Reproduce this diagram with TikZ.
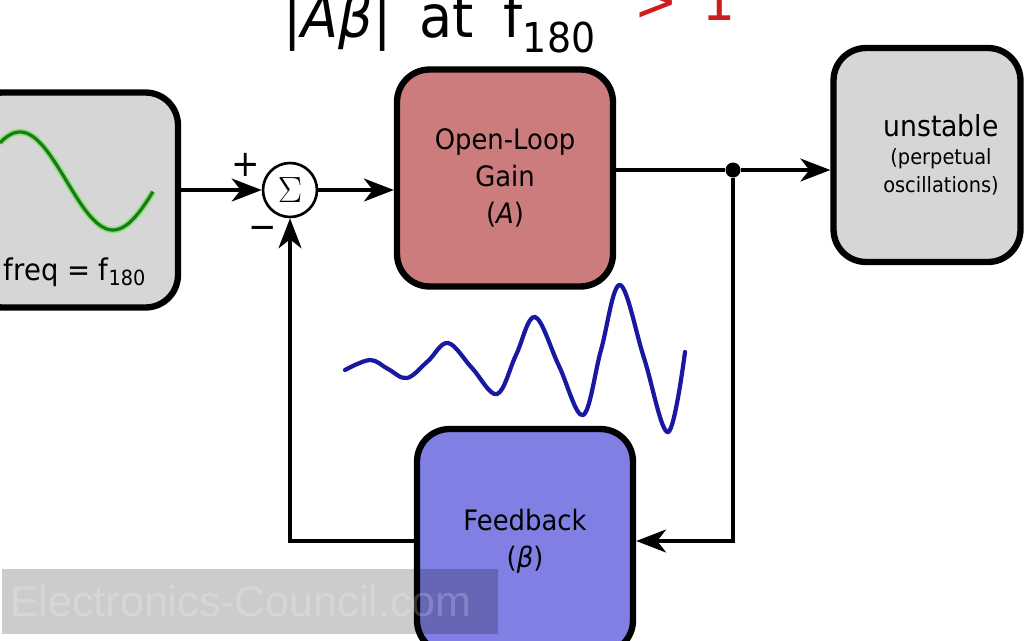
\documentclass[tikz,border=0pt]{standalone}
\usepackage{fontspec}
\setmainfont{DejaVu Sans}[FakeStretch=0.92]
\newfontfamily\markfont{Liberation Sans}
\usetikzlibrary{arrows.meta,calc,positioning}
\definecolor{SourceGrey}{RGB}{214,214,214}
\definecolor{GainRose}{RGB}{204,124,124}
\definecolor{FeedbackBlue}{RGB}{128,128,228}
\definecolor{WaveBlue}{RGB}{24,24,160}
\definecolor{WaveGreen}{RGB}{30,118,30}
\definecolor{GlowGreen}{RGB}{130,230,110}
\definecolor{TitleRed}{RGB}{205,30,30}
\newcommand{\notefont}{\fontsize{12}{16}\selectfont}

\begin{document}
\begin{tikzpicture}[x=0.02cm, y=-0.02cm,
    block/.style={draw=black, line width=3.6pt, rounded corners=0.65cm, align=center,
        font=\fontsize{16}{21}\selectfont, inner sep=0pt},
    signal/.style={line width=2.2pt, -{Stealth[length=17pt, width=13pt, inset=5pt]}},
    wire/.style={line width=2.2pt}]
    \useasboundingbox (0,0) rectangle (1024,640);
    \clip (0,0) rectangle (1024,640);
    % Title: loop gain condition
    \node[anchor=base west, inner sep=0pt, font=\fontsize{33.5}{40}\selectfont] (title) at (283,37)
        {|\textit{Aβ}|\hspace{16pt}at\hspace{17pt}f\textsubscript{180}};
    \node[anchor=base west, inner sep=0pt, text=TitleRed, font=\fontsize{32}{38}\selectfont] (cond) at (634,20)
        {>\hspace{14pt}1};
    % Input source with a sine
    \node[block, fill=SourceGrey, minimum width=4.16cm, minimum height=4.3cm] (src) at (74,200) {};
    \draw[GlowGreen, line width=3.6pt] plot[domain=0:153, samples=60] (\x,{181-49*cos((\x-20)/186*360)});
    \draw[WaveGreen, line width=1.8pt] plot[domain=0:153, samples=60] (\x,{181-49*cos((\x-20)/186*360)});
    \node[anchor=base, font=\fontsize{17}{20}\selectfont] (freq) at (75,280) {freq = f\textsubscript{180}};
    % Summing junction
    \node[circle, draw, line width=1.5pt, fill=white, minimum size=1.08cm, inner sep=0pt] (sum) at (290,190)
        {\fontsize{20}{24}\selectfont$\Sigma$};
    \node[font=\fontsize{21}{24}\selectfont] (plus) at (246,165) {+};
    \node[font=\fontsize{21}{24}\selectfont] (minus) at (263,233) {−};
    % Forward path, output and feedback blocks
    \node[block, fill=GainRose, minimum width=4.32cm, minimum height=4.34cm] (gain) at (505,178)
        {Open-Loop\\Gain\\(\textit{A})};
    \node[block, fill=SourceGrey, minimum width=3.74cm, minimum height=4.28cm] (out) at (927,155) {};
    \node[align=center, font=\fontsize{16.5}{16}\selectfont] (state) at (941,155)
        {unstable\\\notefont(perpetual\\\notefont oscillations)};
    \node[block, fill=FeedbackBlue, minimum width=4.32cm, minimum height=4.48cm] (fb) at (525,541)
        {Feedback\\(\textit{β})};
    \node[circle, fill, inner sep=0pt, minimum size=0.3cm] (tap) at (733,170) {};
    % Connectors
    \draw[signal] (src.east |- sum) -- (sum.west);
    \draw[signal] (sum.east) -- (sum.east -| gain.west);
    \draw[wire] (gain.east |- tap) -- (tap);
    \draw[signal] (tap) -- (tap -| out.west);
    \draw[signal] (tap) |- (fb.east);
    \draw[signal] (fb.west) -| (sum.south);
    % Growing oscillation in the loop
    \draw[WaveBlue, line width=2.4pt, line cap=round] plot[smooth, tension=0.6] coordinates {
        (345,370) (370,360) (388,369) (407,378) (428,361) (448,343) (472,368) (497,394)
        (516,355) (535,317) (559,366) (583,415) (601,350) (620,285) (644,358) (668,432) (685,352)};
    % Watermark band
    \node[fill=black, fill opacity=0.2, text=white, minimum width=9.92cm, minimum height=1.3cm,
        text width=9.6cm, align=left, inner sep=0pt, font=\markfont\fontsize{24.5}{28}\selectfont]
        (mark) at (250,601) {Electronics-Council.com};
\end{tikzpicture}
\end{document}
